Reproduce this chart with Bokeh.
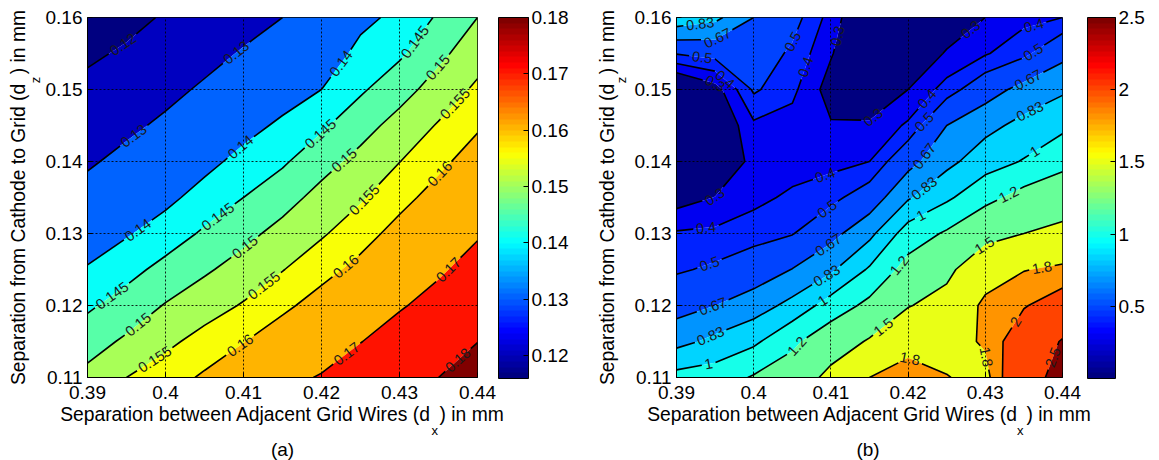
import math
import numpy as np
from bokeh.plotting import figure
from bokeh.plotting.contour import contour_data
from bokeh.models import (ColorBar, LinearColorMapper, Label, FixedTicker,
                          PrintfTickFormatter, Range1d)
from bokeh.layouts import row
from bokeh.core.properties import value
from bokeh.embed import file_html
from bokeh.resources import INLINE

FONT = "Liberation Sans"

# ---------------- data ----------------
dx_grid = [0.390, 0.395, 0.400, 0.405, 0.410, 0.415, 0.420, 0.425, 0.430, 0.435, 0.440]
dz_grid = [0.110, 0.115, 0.120, 0.125, 0.130, 0.135, 0.140, 0.145, 0.150, 0.155, 0.160]

# panel (a): rows from dz=0.11 (bottom) to dz=0.16 (top), columns dx 0.39 -> 0.44
za = [
    [0.1514, 0.1550, 0.1575, 0.1608, 0.1645, 0.1681, 0.1705, 0.1740, 0.1776, 0.1800, 0.1834],
    [0.1479, 0.1508, 0.1539, 0.1567, 0.1598, 0.1633, 0.1664, 0.1698, 0.1734, 0.1763, 0.1799],
    [0.1442, 0.1471, 0.1503, 0.1529, 0.1554, 0.1588, 0.1623, 0.1657, 0.1693, 0.1726, 0.1764],
    [0.1405, 0.1434, 0.1465, 0.1493, 0.1520, 0.1548, 0.1582, 0.1616, 0.1656, 0.1690, 0.1728],
    [0.1366, 0.1395, 0.1425, 0.1457, 0.1486, 0.1516, 0.1544, 0.1579, 0.1619, 0.1656, 0.1693],
    [0.1327, 0.1358, 0.1386, 0.1421, 0.1450, 0.1481, 0.1516, 0.1544, 0.1583, 0.1621, 0.1660],
    [0.1290, 0.1321, 0.1350, 0.1384, 0.1417, 0.1443, 0.1482, 0.1515, 0.1549, 0.1587, 0.1626],
    [0.1255, 0.1284, 0.1314, 0.1347, 0.1381, 0.1410, 0.1442, 0.1481, 0.1518, 0.1554, 0.1593],
    [0.1221, 0.1247, 0.1279, 0.1311, 0.1344, 0.1374, 0.1400, 0.1443, 0.1481, 0.1521, 0.1559],
    [0.1186, 0.1211, 0.1243, 0.1275, 0.1307, 0.1337, 0.1365, 0.1416, 0.1442, 0.1488, 0.1529],
    [0.1155, 0.1176, 0.1208, 0.1239, 0.1270, 0.1300, 0.1330, 0.1385, 0.1414, 0.1456, 0.1500],
]

# panel (b)
zb = [
    [1.060, 1.090, 1.220, 1.320, 1.580, 1.800, 1.920, 1.810, 1.720, 2.350, 2.620],
    [0.778, 0.871, 0.963, 1.156, 1.350, 1.527, 1.700, 1.700, 1.830, 2.200, 2.530],
    [0.607, 0.670, 0.750, 0.879, 1.080, 1.255, 1.488, 1.586, 1.850, 1.980, 2.150],
    [0.484, 0.521, 0.577, 0.674, 0.802, 1.022, 1.282, 1.443, 1.684, 1.790, 1.840],
    [0.412, 0.422, 0.456, 0.493, 0.620, 0.784, 1.087, 1.226, 1.418, 1.500, 1.575],
    [0.250, 0.303, 0.370, 0.421, 0.463, 0.576, 0.811, 0.968, 1.133, 1.280, 1.348],
    [0.150, 0.200, 0.330, 0.350, 0.370, 0.400, 0.616, 0.784, 0.922, 1.012, 1.141],
    [0.120, 0.180, 0.380, 0.360, 0.310, 0.317, 0.417, 0.670, 0.782, 0.878, 0.958],
    [0.120, 0.250, 0.517, 0.425, 0.250, 0.200, 0.300, 0.443, 0.597, 0.722, 0.805],
    [0.507, 0.545, 0.580, 0.478, 0.310, 0.150, 0.200, 0.311, 0.390, 0.471, 0.625],
    [0.940, 0.870, 0.670, 0.550, 0.360, 0.150, 0.120, 0.220, 0.300, 0.370, 0.400],
]

levels_a = [0.12, 0.13, 0.14, 0.145, 0.15, 0.155, 0.16, 0.17, 0.18]
level_text_a = ["0.12", "0.13", "0.14", "0.145", "0.15", "0.155", "0.16", "0.17", "0.18"]
levels_b = [0.3, 0.4, 0.5, 0.67, 0.83, 1.0, 1.2, 1.5, 1.8, 2.0, 2.5]
level_text_b = ["0.3", "0.4", "0.5", "0.67", "0.83", "1", "1.2", "1.5", "1.8", "2", "2.5"]

x_ticks = [0.39, 0.40, 0.41, 0.42, 0.43, 0.44]
y_ticks = [0.11, 0.12, 0.13, 0.14, 0.15, 0.16]
cbar_ticks_a = [0.12, 0.13, 0.14, 0.15, 0.16, 0.17, 0.18]
cbar_ticks_b = [0.5, 1.0, 1.5, 2.0, 2.5]
crange_a = [0.1159, 0.18]
crange_b = [0.0, 2.5]

EN = "\u2002"
x_label_head = "Separation between Adjacent Grid Wires (d"
y_label_head = "Separation from Cathode to Grid (d"
label_tail = ") in mm"
x_sub, y_sub = "x", "z"
panel_tags = ["(a)", "(b)"]

# Arial / Liberation Sans advance widths (1/1000 em), used to place subscripts
ADV = {" ": 278, "(": 333, ")": 333, ".": 278, "A": 667, "C": 722, "G": 778,
       "S": 667, "W": 944, "a": 556, "b": 556, "c": 500, "d": 556, "e": 556,
       "f": 278, "h": 556, "i": 222, "j": 222, "m": 833, "n": 556, "o": 556,
       "p": 556, "r": 333, "s": 500, "t": 278, "w": 722, "x": 500, "z": 500,
       EN: 500}


def adv(t, size):
    return sum(ADV.get(c, 556) for c in t) * size / 1000.0


# ---------------- helpers ----------------
def jet(t):
    t = min(max(t, 0.0), 1.0)
    r = min(max(1.5 - abs(4 * t - 3), 0.0), 1.0)
    g = min(max(1.5 - abs(4 * t - 2), 0.0), 1.0)
    b = min(max(1.5 - abs(4 * t - 1), 0.0), 1.0)
    return "#%02x%02x%02x" % (round(r * 255), round(g * 255), round(b * 255))


def jet64(t):
    t = min(max(t, 0.0), 1.0)
    return jet(min(math.floor(t * 64), 63) / 63.0)


JET64 = [jet(i / 63) for i in range(64)]


def split_lines(xs, ys):
    out = []
    if isinstance(xs, (list, tuple)) and len(xs) and not np.isscalar(xs[0]):
        for a, b in zip(xs, ys):
            out += split_lines(np.asarray(a, float), np.asarray(b, float))
        return out
    xs = np.asarray(xs, float)
    ys = np.asarray(ys, float)
    if xs.size < 2:
        return out
    bad = np.isnan(xs) | np.isnan(ys)
    start = 0
    for i in range(len(xs) + 1):
        if i == len(xs) or bad[i]:
            if i - start >= 2:
                out.append((xs[start:i], ys[start:i]))
            start = i + 1
    return out


def label_line(px, py, kx, ky, x0, y0, text, size, spacing=132.0):
    sx = (px - x0) * kx
    sy = (py - y0) * ky
    seg = np.hypot(np.diff(sx), np.diff(sy))
    s = np.concatenate([[0.0], np.cumsum(seg)])
    L = s[-1]
    hw = adv(text, size) / 2 + 3
    if L < 2 * hw + 8:
        return [], [(px, py)]
    n = int(L // spacing)
    off = (L - n * spacing) / 2
    while n > 0 and off < hw + 4:
        n -= 1
        off = (L - n * spacing) / 2
    pos = [off + k * spacing for k in range(n + 1)]
    labels = []
    for q in pos:
        xa, ya = np.interp(q - 4, s, sx), np.interp(q - 4, s, sy)
        xb, yb = np.interp(q + 4, s, sx), np.interp(q + 4, s, sy)
        ang = math.atan2(yb - ya, xb - xa)
        if ang > math.pi / 2:
            ang -= math.pi
        if ang < -math.pi / 2:
            ang += math.pi
        labels.append((np.interp(q, s, px), np.interp(q, s, py), ang))
    keep = []
    cur = 0.0
    for q in pos:
        keep.append((cur, q - hw))
        cur = q + hw
    keep.append((cur, L))
    pieces = []
    for a, b in keep:
        if b - a < 0.5:
            continue
        inner = (s > a) & (s < b)
        xs_ = np.concatenate([[np.interp(a, s, px)], px[inner], [np.interp(b, s, px)]])
        ys_ = np.concatenate([[np.interp(a, s, py)], py[inner], [np.interp(b, s, py)]])
        pieces.append((xs_, ys_))
    return labels, pieces


def add_text(p, text, x, y, size, angle=0.0, align="left", baseline="alphabetic"):
    p.add_layout(Label(x=x, y=y, x_units="canvas", y_units="canvas", text=text,
                       angle=angle, text_align=align, text_baseline=baseline,
                       text_font=FONT, text_font_size="%.1fpx" % size,
                       text_color="black"), "right")


def make_panel(z, levels, level_text, crange, cticks, width, border_left,
               frame_w, cb_gap, cb_width, tag):
    height = 460
    border_top = 17
    frame_h = 360
    LS = 14.5   # contour label font size
    AS = 19.3   # axis label font size
    Z = np.array(z, dtype=float)
    xs = np.array(dx_grid)
    ys = np.array(dz_grid)
    p = figure(width=width, height=height, title=None,
               x_range=Range1d(0.39, 0.44), y_range=Range1d(0.11, 0.16),
               output_backend="svg", toolbar_location=None,
               min_border_left=border_left, min_border_right=width - border_left - frame_w,
               min_border_top=border_top, min_border_bottom=height - border_top - frame_h)
    p.background_fill_color = "white"
    p.border_fill_color = "white"
    p.outline_line_color = "black"
    p.outline_line_width = 1

    cmin, cmax = crange
    fill_levels = [float(Z.min()) - 1.0] + list(levels) + [float(Z.max()) + 1.0]
    fill_colors = [jet64(0.0)] + [jet64((L - cmin) / (cmax - cmin)) for L in levels]
    p.contour(x=xs, y=ys, z=Z, levels=fill_levels, fill_color=fill_colors,
              line_color=None)

    cd = contour_data(x=xs, y=ys, z=Z, levels=list(levels), want_fill=False, want_line=True)
    ld = cd.line_data
    kx = frame_w / 0.05
    ky = frame_h / 0.05
    lx, ly, lt, la = [], [], [], []
    mxs, mys = [], []
    lev_text = dict(zip([round(v, 6) for v in levels], level_text))
    for lxs, lys, lev in zip(ld.xs, ld.ys, ld.levels):
        text = lev_text.get(round(float(lev), 6), "%g" % lev)
        for px, py in split_lines(lxs, lys):
            labs, pieces = label_line(px, py, kx, ky, 0.39, 0.11, text, LS)
            for (a, b, ang) in labs:
                lx.append(a); ly.append(b); la.append(ang); lt.append(text)
            for (a, b) in pieces:
                mxs.append(list(a)); mys.append(list(b))
    p.multi_line(xs=mxs, ys=mys, line_color="black", line_width=1.6)
    p.text(x=lx, y=ly, text=lt, angle=la, text_align="center", text_baseline="middle",
           text_font=value(FONT), text_font_size="%.1fpx" % LS, text_color="#1a1a1a")

    # axes
    for ax, ticks in ((p.xaxis, x_ticks), (p.yaxis, y_ticks)):
        ax.ticker = FixedTicker(ticks=ticks)
        ax.formatter = PrintfTickFormatter(format="%g")
        ax.major_label_text_font = FONT
        ax.major_label_text_font_size = "19px"
        ax.major_label_text_color = "black"
        ax.axis_line_color = "black"
        ax.major_tick_line_color = "black"
        ax.major_tick_in = 5
        ax.major_tick_out = 0
        ax.minor_tick_line_color = None
        ax.axis_label_text_font = FONT
        ax.axis_label_text_font_size = "%.1fpx" % AS
        ax.axis_label_text_font_style = "normal"
        ax.axis_label_text_color = "black"
    p.xaxis.major_label_standoff = 8
    p.yaxis.major_label_standoff = 5
    p.xaxis.axis_label = x_label_head + EN + label_tail
    p.yaxis.axis_label = y_label_head + EN + label_tail
    p.xaxis.axis_label_standoff = 2
    p.yaxis.axis_label_standoff = 14

    p.xgrid.ticker = FixedTicker(ticks=x_ticks)
    p.ygrid.ticker = FixedTicker(ticks=y_ticks)
    p.grid.grid_line_color = "black"
    p.grid.grid_line_dash = "2 2"
    p.grid.grid_line_alpha = 0.85
    p.grid.grid_line_width = 1
    p.grid.level = "overlay"

    # colour bar
    mapper = LinearColorMapper(palette=JET64, low=cmin, high=cmax)
    cb = ColorBar(color_mapper=mapper, location=(frame_w + cb_gap, -1), width=cb_width,
                  height=frame_h + 1, margin=0, padding=0,
                  ticker=FixedTicker(ticks=cticks),
                  formatter=PrintfTickFormatter(format="%g"),
                  major_label_text_font=FONT, major_label_text_font_size="19px",
                  major_label_text_color="black", major_tick_in=5, major_tick_out=0,
                  major_tick_line_color="black", bar_line_color="black",
                  label_standoff=3, background_fill_alpha=0, border_line_color=None)
    p.add_layout(cb)

    # subscripts of the axis labels and the panel tag
    cx = border_left + frame_w / 2.0
    wx = adv(x_label_head + EN + label_tail, AS)
    gap_x = cx - wx / 2.0 + adv(x_label_head, AS)
    add_text(p, x_sub, gap_x + 0.5, 430, 13, align="left")

    cy = border_top + frame_h / 2.0
    wy = adv(y_label_head + EN + label_tail, AS)
    gap_y = cy + wy / 2.0 - adv(y_label_head, AS)
    add_text(p, y_sub, border_left - 52, gap_y - 0.5, 13, angle=math.pi / 2, align="left")

    add_text(p, tag, cx, 449, 19, align="center")
    return p


pa = make_panel(za, levels_a, level_text_a, crange_a, cbar_ticks_a,
                width=593, border_left=87, frame_w=390, cb_gap=21, cb_width=30,
                tag=panel_tags[0])
pb = make_panel(zb, levels_b, level_text_b, crange_b, cbar_ticks_b,
                width=566, border_left=80, frame_w=389, cb_gap=22, cb_width=28,
                tag=panel_tags[1])

layout = row(pa, pb)
open("out.html", "w").write(file_html(layout, INLINE))
